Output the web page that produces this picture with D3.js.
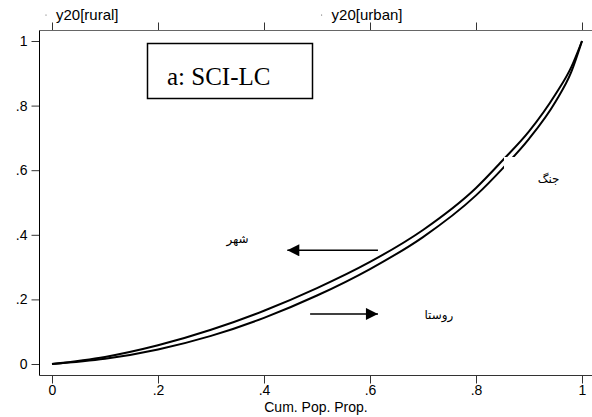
<!DOCTYPE html>
<html>
<head>
<meta charset="utf-8">
<script src="https://cdn.jsdelivr.net/npm/d3@7/dist/d3.min.js"></script>
<style>
  html, body { margin: 0; padding: 0; background: #fff; }
  svg { display: block; }
  text { font-family: "Liberation Sans", Arial, sans-serif; }
</style>
</head>
<body>
<svg id="chart" width="592" height="417"></svg>
<script>
// Cumulative population proportion (x) and concentration curve values
const popProp    = [0, 0.1, 0.2, 0.3, 0.4, 0.5, 0.6, 0.7, 0.8, 0.85, 0.9, 0.95, 0.98, 1];
const urbanCurve = [0, 0.022, 0.058, 0.106, 0.165, 0.235, 0.316, 0.415, 0.545, 0.63, 0.72, 0.835, 0.92, 1];
const ruralCurve = [0, 0.016, 0.045, 0.087, 0.143, 0.212, 0.294, 0.393, 0.522, 0.605, 0.697, 0.812, 0.905, 1];

const xTicks = [0, 0.2, 0.4, 0.6, 0.8, 1];
const yTicks = [0, 0.2, 0.4, 0.6, 0.8, 1];
const tickLabel = v => v === 0 ? "0" : v === 1 ? "1" : String(v).replace(/^0/, "");

const topLabels = [
  { name: "y20[rural]", at: 0.0 },
  { name: "y20[urban]", at: 0.52 }
];
const panelTitle = "a: SCI-LC";
const xTitle = "Cum. Pop. Prop.";

// Persian annotations: city, village, and the plot note
const notes = [
  { text: "شهر",  px: 0.35, py: 0.375 },
  { text: "روستا", px: 0.73, py: 0.14 },
  { text: "جنگ",  px: 0.937, py: 0.56 }
];

const svg = d3.select("#chart");
const frame = { left: 39.5, top: 30.5, right: 592, bottom: 375.5 };

const x = d3.scaleLinear().domain([0, 1]).range([52, 582]);
const y = d3.scaleLinear().domain([0, 1]).range([364, 41]);

// frame: left, bottom, top axes
const axisColor = "#333";
const gx = svg.append("g").attr("transform", `translate(0,${frame.bottom})`)
  .call(d3.axisBottom(x).tickValues(xTicks).tickFormat(tickLabel).tickSize(8).tickPadding(2));
const gxt = svg.append("g").attr("transform", `translate(0,${frame.top})`)
  .call(d3.axisTop(x).tickValues(xTicks).tickFormat("").tickSize(8));
const gy = svg.append("g").attr("transform", `translate(${frame.left},0)`)
  .call(d3.axisLeft(y).tickValues(yTicks).tickFormat(tickLabel).tickSize(8).tickPadding(4));

[gx, gxt, gy].forEach(g => {
  g.select(".domain").remove();
  g.selectAll(".tick line").attr("stroke", axisColor).attr("stroke-width", 1);
  g.selectAll(".tick text").attr("fill", "#000").style("font-size", "14px")
    .style("font-family", "'Liberation Sans', Arial, sans-serif");
});

svg.append("line").attr("x1", frame.left).attr("x2", frame.right)
  .attr("y1", frame.bottom).attr("y2", frame.bottom).attr("stroke", axisColor);
svg.append("line").attr("x1", frame.left).attr("x2", frame.right)
  .attr("y1", frame.top).attr("y2", frame.top).attr("stroke", "#666");
svg.append("line").attr("x1", frame.left).attr("x2", frame.left)
  .attr("y1", frame.top).attr("y2", frame.bottom).attr("stroke", "#000");

// top labels
topLabels.forEach(d => {
  const gxPos = x(d.at);
  svg.append("circle").attr("cx", gxPos - 6).attr("cy", 15).attr("r", 0.6).attr("fill", "#555");
  svg.append("text").attr("x", gxPos + 4).attr("y", 20)
    .style("font-size", "15px").attr("fill", "#000").text(d.name);
});

// x title
svg.append("text").attr("x", 316).attr("y", 412).attr("text-anchor", "middle")
  .style("font-size", "14px").attr("fill", "#000").text(xTitle);

// curves
const line = d3.line().x((d, i) => x(popProp[i])).y(d => y(d)).curve(d3.curveMonotoneX);
[urbanCurve, ruralCurve].forEach(s => {
  svg.append("path").attr("d", line(s)).attr("fill", "none")
    .attr("stroke", "#000").attr("stroke-width", 2);
});

// white label patches
svg.append("rect").attr("x", 504).attr("y", 157).attr("width", 88).attr("height", 90).attr("fill", "#fff");
svg.append("rect").attr("x", 402).attr("y", 292).attr("width", 82).attr("height", 56).attr("fill", "#fff");

// panel title box
svg.append("rect").attr("x", 147.5).attr("y", 43.5).attr("width", 165).attr("height", 55)
  .attr("fill", "#fff").attr("stroke", "#000").attr("stroke-width", 1.5);
svg.append("text").attr("x", 167).attr("y", 85)
  .style("font-family", "'Liberation Serif', 'Times New Roman', serif")
  .style("font-size", "25px").attr("fill", "#000").text(panelTitle);

// Persian notes
notes.forEach(n => {
  svg.append("text").attr("x", x(n.px)).attr("y", y(n.py))
    .attr("text-anchor", "middle")
    .style("font-family", "'DejaVu Sans', 'Noto Sans', sans-serif")
    .style("font-size", "12px").attr("fill", "#000").text(n.text);
});

// arrows
const defs = svg.append("defs");
defs.append("marker").attr("id", "head").attr("viewBox", "0 0 10 10")
  .attr("refX", 10).attr("refY", 5).attr("markerWidth", 14).attr("markerHeight", 12)
  .attr("markerUnits", "userSpaceOnUse").attr("orient", "auto")
  .append("path").attr("d", "M0,0 L10,5 L0,10 Z").attr("fill", "#000");

const arrows = [
  { from: [0.615, 0.352], to: [0.444, 0.352] },
  { from: [0.487, 0.155], to: [0.615, 0.155] }
];
arrows.forEach(a => {
  svg.append("line")
    .attr("x1", x(a.from[0])).attr("y1", y(a.from[1]))
    .attr("x2", x(a.to[0])).attr("y2", y(a.to[1]))
    .attr("stroke", "#000").attr("stroke-width", 1.5)
    .attr("marker-end", "url(#head)");
});
</script>
</body>
</html>
